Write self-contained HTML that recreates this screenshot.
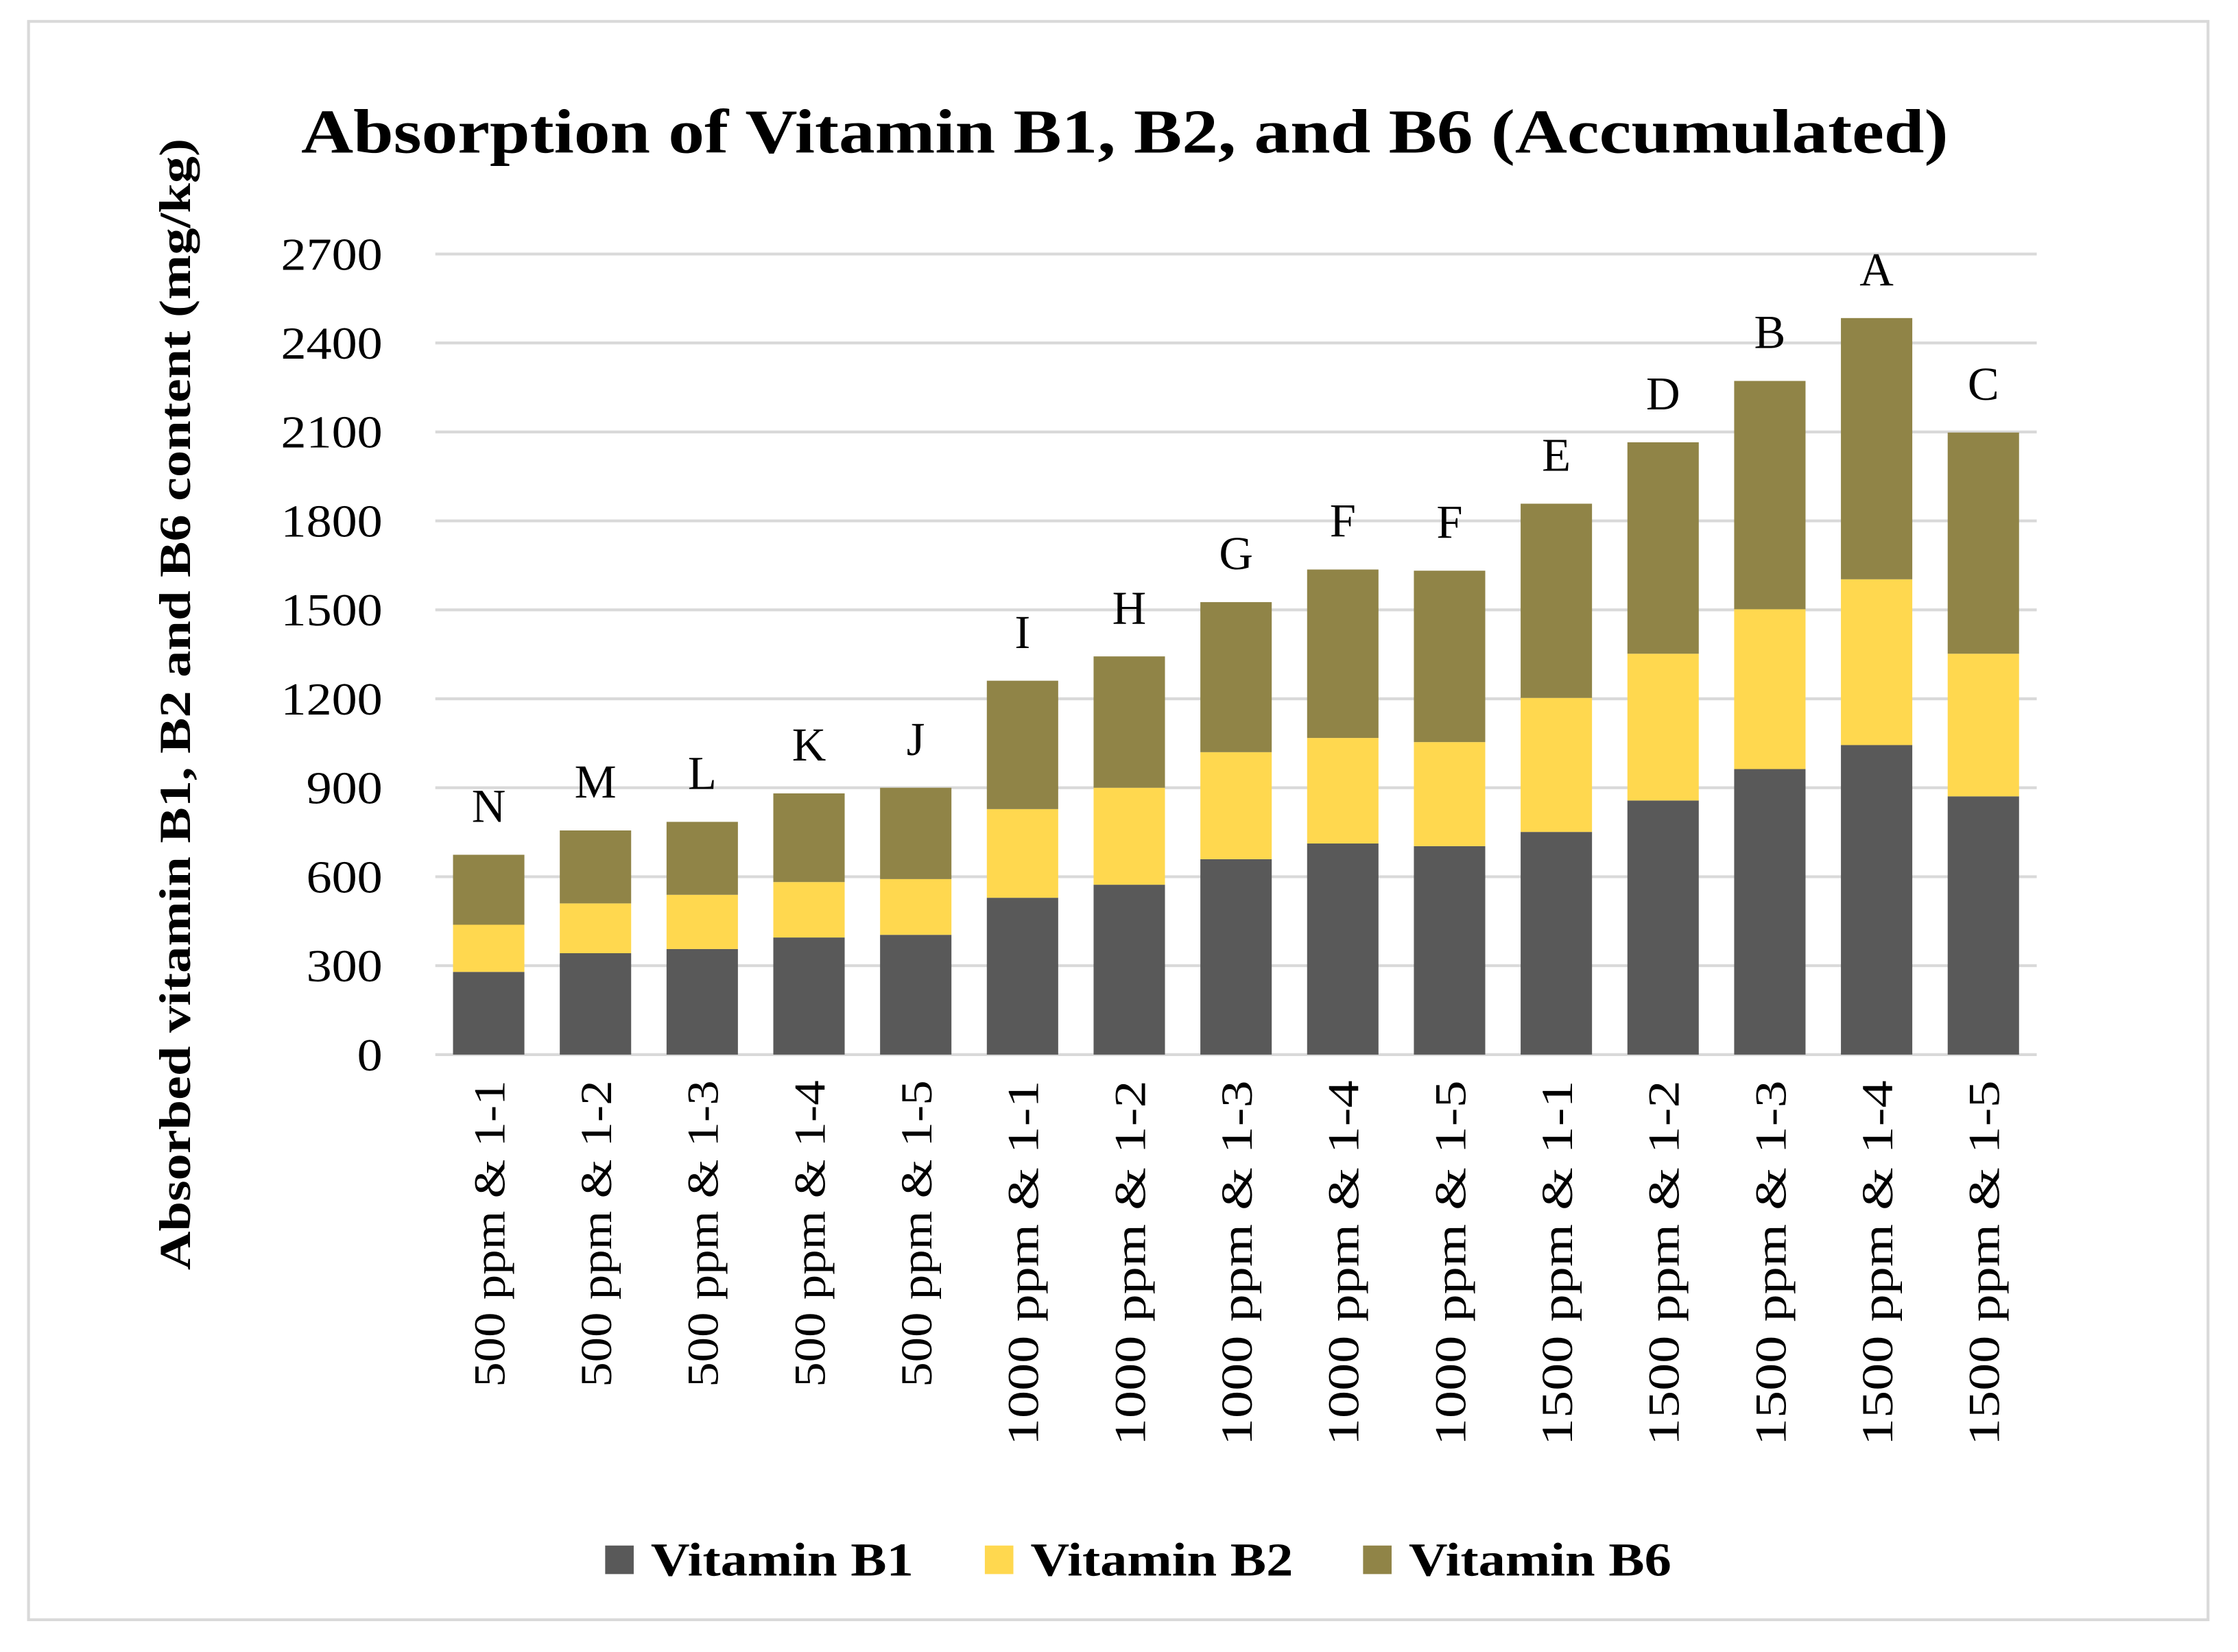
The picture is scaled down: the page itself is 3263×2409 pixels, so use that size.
<!DOCTYPE html>
<html><head><meta charset="utf-8"><style>
html,body{margin:0;padding:0;background:#fff}
svg{display:block}
text{font-family:"Liberation Serif",serif}
</style></head><body>
<svg id="chart" width="3263" height="2409" viewBox="0 0 1568 1157.6" preserveAspectRatio="none" xmlns="http://www.w3.org/2000/svg">
<rect x="20" y="15" width="1527" height="1120" fill="#fff" stroke="#d9d9d9" stroke-width="2"/>
<text x="211" y="107" font-size="44" font-weight="bold" textLength="1154" lengthAdjust="spacingAndGlyphs">Absorption of Vitamin B1, B2, and B6 (Accumulated)</text>
<text transform="translate(133,890) rotate(-90)" font-size="31" font-weight="bold" textLength="793" lengthAdjust="spacingAndGlyphs">Absorbed vitamin B1, B2 and B6 content (mg/kg)</text>
<g id="grid"></g><g id="bars"></g><g id="labels"></g>
<g>
<rect x="424" y="1083" width="20" height="20" fill="#595959"/>
<text x="456" y="1104" font-size="33" font-weight="bold" textLength="184" lengthAdjust="spacingAndGlyphs">Vitamin B1</text>
<rect x="690" y="1083" width="20" height="20" fill="#ffd84f"/>
<text x="722" y="1104" font-size="33" font-weight="bold" textLength="184" lengthAdjust="spacingAndGlyphs">Vitamin B2</text>
<rect x="955" y="1083" width="20" height="20" fill="#908447"/>
<text x="987" y="1104" font-size="33" font-weight="bold" textLength="184" lengthAdjust="spacingAndGlyphs">Vitamin B6</text>
</g>
</svg>
<script>
const categories=["500 ppm & 1-1","500 ppm & 1-2","500 ppm & 1-3","500 ppm & 1-4","500 ppm & 1-5","1000 ppm & 1-1","1000 ppm & 1-2","1000 ppm & 1-3","1000 ppm & 1-4","1000 ppm & 1-5","1500 ppm & 1-1","1500 ppm & 1-2","1500 ppm & 1-3","1500 ppm & 1-4","1500 ppm & 1-5"];
const b1=[279,342,356,395,404,529,573,659,712,703,751,857,963,1044,871];
const b2=[159,168,183,187,188,299,327,361,356,351,452,495,539,559,481];
const b6=[236,246,246,299,308,433,443,506,568,578,655,713,770,881,746];
const letters=["N","M","L","K","J","I","H","G","F","F","E","D","B","A","C"];
const ticks=[0,300,600,900,1200,1500,1800,2100,2400,2700];
const NS="http://www.w3.org/2000/svg";
const L=305,R=1427,Y0=739,Ymax=2700,Ytop=178;
const y=v=>Y0-(v/Ymax)*(Y0-Ytop);
const step=(R-L)/categories.length;
const xc=i=>L+step*(i+0.5);
const bw=50;
function mk(tag,attrs,parent){const e=document.createElementNS(NS,tag);for(const k in attrs)e.setAttribute(k,attrs[k]);parent.appendChild(e);return e;}
const grid=document.getElementById('grid'),bars=document.getElementById('bars'),labels=document.getElementById('labels');
ticks.forEach(t=>{
 const g=mk('line',{x1:L,x2:R,y1:y(t),y2:y(t),stroke:'#d9d9d9','stroke-width':2},grid);
 
 
 const w=String(t).length*17.8;
 const tx=mk('text',{x:268-w,y:y(t)+11,'font-size':32,textLength:w,lengthAdjust:'spacingAndGlyphs'},labels);
 tx.textContent=t;
 
 
});
categories.forEach((c,i)=>{
 const segs=[[b1[i],'#595959','b1'],[b2[i],'#ffd84f','b2'],[b6[i],'#908447','b6']];
 let base=0;
 segs.forEach(s=>{
  const r=mk('rect',{x:xc(i)-bw/2,y:y(base+s[0]),width:bw,height:y(base)-y(base+s[0]),fill:s[1]},bars);
  
  
  base+=s[0];
 });
 const lt=mk('text',{x:xc(i),y:y(base)-23,'font-size':33,'text-anchor':'middle'},labels);
 lt.textContent=letters[i];
 
 
 const len=c.length===13?215:256;
 const xt=mk('text',{transform:`translate(${xc(i)+11},${757+len}) rotate(-90)`,'font-size':31,textLength:len,lengthAdjust:'spacingAndGlyphs'},labels);
 xt.textContent=c;
 
 
});
</script>
</body></html>
